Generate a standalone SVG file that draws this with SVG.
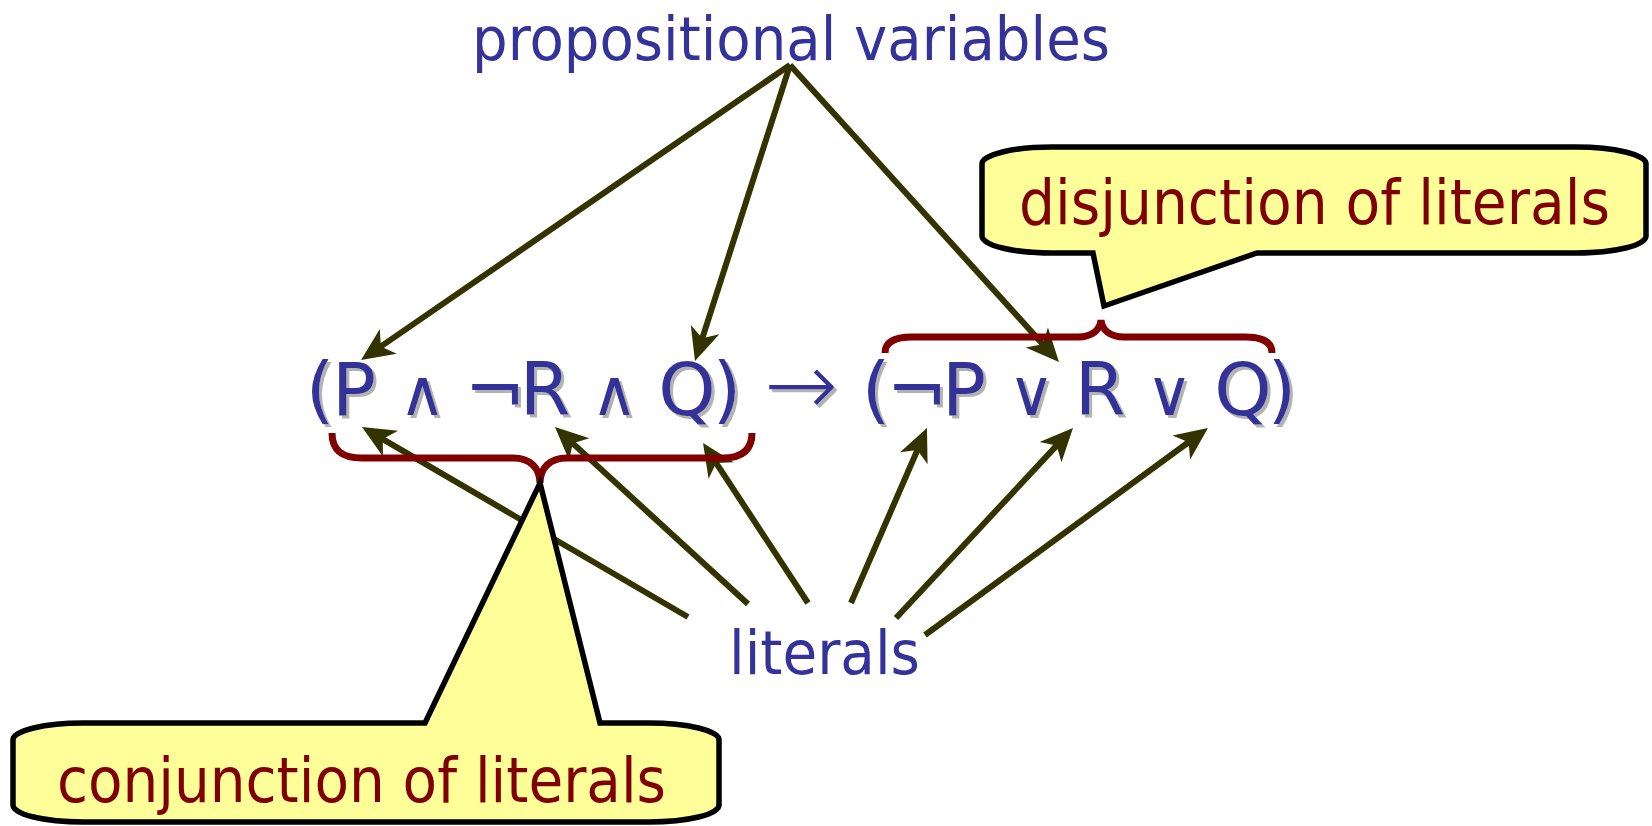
<svg xmlns="http://www.w3.org/2000/svg" width="1652" height="826" viewBox="0 0 1652 826">
<style>
.lbl{font-family:"DejaVu Sans Condensed","DejaVu Sans",sans-serif;font-stretch:condensed;font-size:61px}
.big{font-size:63px}
.blue{fill:#333399}
.red{fill:#800000}
.formula{font-family:"DejaVu Sans",sans-serif;font-size:73px;fill:#333399;text-anchor:middle}
.op{font-family:"DejaVu Sans ExtraLight","DejaVu Sans",sans-serif;font-weight:200;font-size:64px}
.imp{font-family:"DejaVu Sans ExtraLight","DejaVu Sans",sans-serif;font-weight:200;font-size:88px}
.sp{font-size:8px}
.arrow{stroke:#333300;stroke-width:6;fill:none;marker-end:url(#ah)}
.brace{stroke:#800000;stroke-width:7;fill:none}
.callout{fill:#FFFF99;stroke:#000;stroke-width:5.5;stroke-linejoin:miter}
</style>
<defs>
<marker id="ah" markerUnits="userSpaceOnUse" viewBox="-40 -20 45 40" markerWidth="45" markerHeight="40" refX="-22" refY="0" orient="auto">
<path d="M0,0 L-33,-15 L-24,0 L-33,15 Z" fill="#333300"/>
</marker>
<filter id="shadow" x="-5%" y="-20%" width="110%" height="140%">
<feFlood flood-color="#b3b3b3" result="f"/>
<feComposite in="f" in2="SourceAlpha" operator="in" result="s"/>
<feOffset in="s" dx="3" dy="3" result="o"/>
<feMerge><feMergeNode in="o"/><feMergeNode in="SourceGraphic"/></feMerge>
</filter>
</defs>
<rect width="1652" height="826" fill="#fff"/>

<g id="node-propvars">
<text class="lbl blue" x="472" y="60" textLength="638" lengthAdjust="spacingAndGlyphs">propositional variables</text>
</g>

<g id="node-formula" filter="url(#shadow)">
<text class="formula" y="415"><tspan x="320">(</tspan><tspan x="354">P</tspan><tspan class="sp" x="387"> </tspan><tspan class="op" x="422">∧</tspan><tspan class="sp" x="458"> </tspan><tspan x="495">¬</tspan><tspan x="545">R</tspan><tspan class="sp" x="580"> </tspan><tspan class="op" x="614">∧</tspan><tspan class="sp" x="648"> </tspan><tspan x="687">Q</tspan><tspan x="727">)</tspan><tspan class="sp" x="752"> </tspan><tspan class="imp" x="801">→</tspan><tspan class="sp" x="850"> </tspan><tspan x="876">(</tspan><tspan x="917">¬</tspan><tspan x="964">P</tspan><tspan class="sp" x="997"> </tspan><tspan class="op" x="1031">∨</tspan><tspan class="sp" x="1066"> </tspan><tspan x="1100">R</tspan><tspan class="sp" x="1136"> </tspan><tspan class="op" x="1169">∨</tspan><tspan class="sp" x="1203"> </tspan><tspan x="1243">Q</tspan><tspan x="1282">)</tspan></text>
</g>

<g id="node-literals">
<text class="lbl blue" x="729" y="674" textLength="191" lengthAdjust="spacingAndGlyphs">literals</text>
</g>

<g id="connectors">
<line class="arrow" x1="790" y1="65" x2="379.2" y2="347.6"/>
<line class="arrow" x1="790" y1="65" x2="701.7" y2="340.1"/>
<line class="arrow" x1="790" y1="65" x2="1044.2" y2="345.7"/>
<line class="arrow" x1="688" y1="617" x2="381.0" y2="438.1"/>
<line class="arrow" x1="748" y1="604" x2="571.2" y2="441.9"/>
<line class="arrow" x1="808" y1="603" x2="715.1" y2="461.4"/>
<line class="arrow" x1="851" y1="603" x2="918.2" y2="448.2"/>
<line class="arrow" x1="896" y1="618" x2="1058.0" y2="444.1"/>
<line class="arrow" x1="925" y1="635" x2="1190.2" y2="441.0"/>
</g>

<g id="brace-conjunction">
<path class="brace" d="M332,433 C332,450 342,458 362,458 L513,458 C530,458 540,468 540,483 C540,468 550,458 567,458 L723,458 C742,458 752,450 752,433"/>
</g>
<g id="brace-disjunction">
<path class="brace" d="M885,353 C885,342 895,337 912,337 L1078,337 C1092,337 1100,330 1101,320 C1102,330 1110,337 1124,337 L1245,337 C1262,337 1272,342 1272,353"/>
</g>

<g id="node-disjunction-callout">
<path class="callout" d="M1052,147 L1576,147 A70,17 0 0 1 1646,164 L1646,236 A70,17 0 0 1 1576,253 L1257,253 L1104,306 L1093,253 L1052,253 A70,17 0 0 1 982,236 L982,164 A70,17 0 0 1 1052,147 Z"/>
<text class="lbl big red" x="1019" y="224" textLength="591" lengthAdjust="spacingAndGlyphs">disjunction of literals</text>
</g>

<g id="node-conjunction-callout">
<path class="callout" d="M83,723 L425,723 L540,483 L600,723 L649,723 A70,17 0 0 1 719,740 L719,805 A70,17 0 0 1 649,822 L83,822 A70,17 0 0 1 13,805 L13,740 A70,17 0 0 1 83,723 Z"/>
<text class="lbl big red" x="57" y="802" textLength="609" lengthAdjust="spacingAndGlyphs">conjunction of literals</text>
</g>
</svg>
